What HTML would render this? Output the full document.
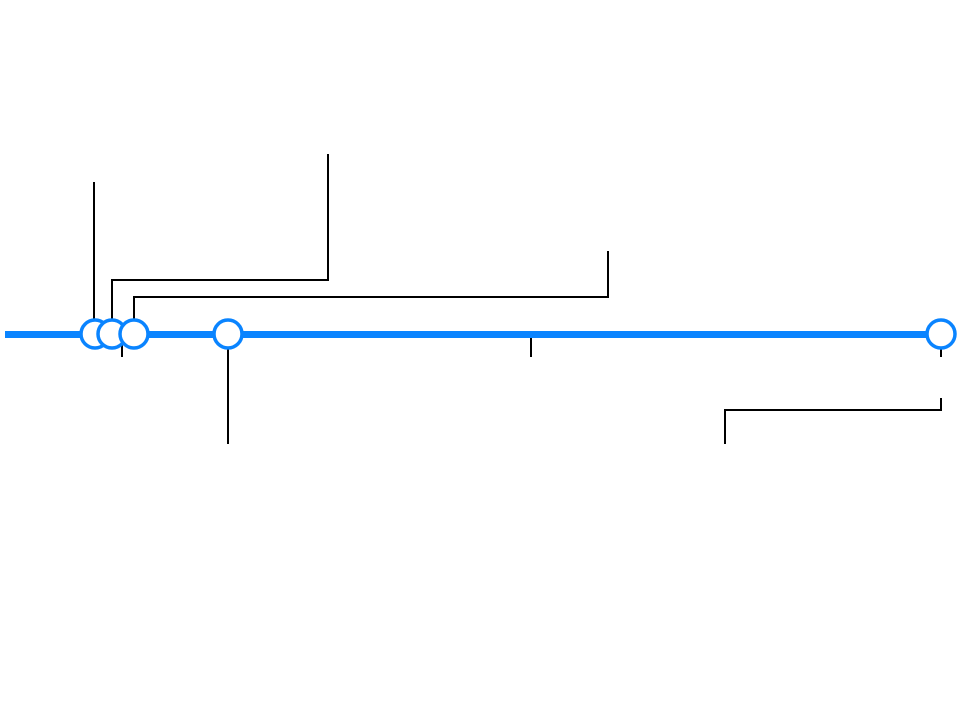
<!DOCTYPE html>
<html><head><meta charset="utf-8"><style>html,body{margin:0;padding:0;background:#fff;}</style></head>
<body>
<svg width="980" height="700" viewBox="0 0 980 700" xmlns="http://www.w3.org/2000/svg">
<g stroke="#000" stroke-width="2" fill="none">
<line x1="94" y1="182" x2="94" y2="322"/>
<polyline points="112,322 112,280 328,280 328,154"/>
<polyline points="134,322 134,297 608,297 608,251"/>
<line x1="122" y1="342" x2="122" y2="357"/>
<line x1="531" y1="338" x2="531" y2="357"/>
<line x1="941" y1="348" x2="941" y2="357"/>
<line x1="228" y1="348" x2="228" y2="444"/>
<polyline points="941,398 941,410 725,410 725,444"/>
</g>
<line x1="5" y1="334.5" x2="941" y2="334.5" stroke="#0a84ff" stroke-width="7"/>
<g fill="#fff" stroke="#0a84ff" stroke-width="3.5">
<circle cx="95" cy="334" r="14"/>
<circle cx="112" cy="334" r="14"/>
<circle cx="134" cy="334" r="14"/>
<circle cx="228" cy="334" r="14"/>
<circle cx="941" cy="334" r="14"/>
</g>
</svg>
</body></html>
